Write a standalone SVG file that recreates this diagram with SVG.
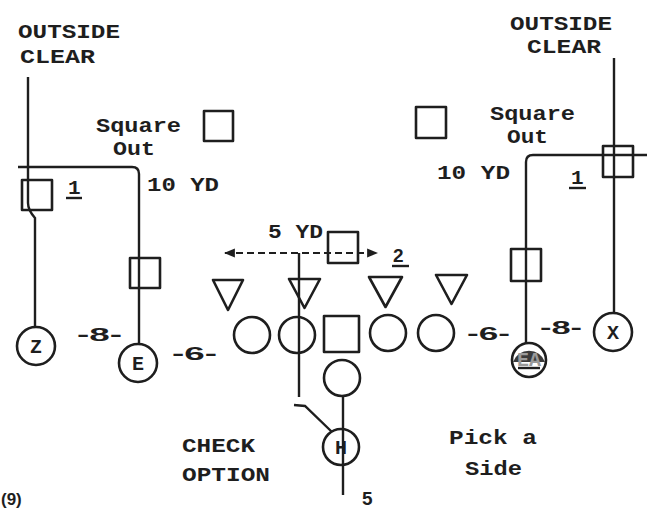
<svg xmlns="http://www.w3.org/2000/svg" width="647" height="508" viewBox="0 0 647 508">
<defs>
<style>
.t{font-family:"Liberation Mono","DejaVu Sans Mono",monospace;font-weight:bold;font-size:21px;fill:#1e1e1e}
.n{font-family:"Liberation Sans","DejaVu Sans",sans-serif;font-weight:bold;font-size:19px;fill:#1e1e1e}
.c{font-family:"Liberation Mono",monospace;font-weight:bold;font-size:20px;fill:#1e1e1e;text-anchor:middle}
.s{fill:none;stroke:#1e1e1e;stroke-width:2.6;stroke-linejoin:round}
.l{fill:none;stroke:#1e1e1e;stroke-width:2.4}
.d{fill:none;stroke:#1e1e1e;stroke-width:2.2;stroke-dasharray:7 4}
</style>
<marker id="ah" viewBox="0 0 10 10" refX="9" refY="5" markerWidth="5" markerHeight="5" orient="auto-start-reverse">
<path d="M0,1 L10,5 L0,9 z" fill="#1e1e1e"/>
</marker>
</defs>
<rect width="647" height="508" fill="#fff"/>

<g id="connectors">
<path class="l" d="M28,77 V203 Q28,210 35,218 V327"/>
<path class="l" d="M18,167 H132 Q139,167 139,174 V344"/>
<path class="l" d="M614,58 V313"/>
<path class="l" d="M647,155 H533 Q526,155 526,162 V343"/>
<path class="d" d="M225,253 H377" marker-start="url(#ah)" marker-end="url(#ah)"/>
<path class="l" d="M299,253 V397"/>
<path class="l" d="M294,405 L305,406 L332,432"/>
<path class="l" d="M343,395 V495"/>
</g>

<g id="labels">
<text class="t" x="18" y="38" textLength="102" lengthAdjust="spacingAndGlyphs">OUTSIDE</text>
<text class="t" x="20" y="63" textLength="75" lengthAdjust="spacingAndGlyphs">CLEAR</text>
<text class="t" x="510" y="30" textLength="102" lengthAdjust="spacingAndGlyphs">OUTSIDE</text>
<text class="t" x="527" y="53" textLength="74" lengthAdjust="spacingAndGlyphs">CLEAR</text>
<text class="t" x="96" y="132" textLength="85" lengthAdjust="spacingAndGlyphs">Square</text>
<text class="t" x="113" y="155" textLength="42" lengthAdjust="spacingAndGlyphs">Out</text>
<text class="t" x="490" y="120" textLength="85" lengthAdjust="spacingAndGlyphs">Square</text>
<text class="t" x="507" y="143" textLength="41" lengthAdjust="spacingAndGlyphs">Out</text>
<text class="t" x="147" y="191" textLength="72" lengthAdjust="spacingAndGlyphs">10 YD</text>
<text class="t" x="437" y="179" textLength="73" lengthAdjust="spacingAndGlyphs">10 YD</text>
<text class="t" x="68" y="194">1</text>
<path class="l" d="M66,198 H82"/>
<text class="t" x="571" y="184">1</text>
<path class="l" d="M569,188 H586"/>
<text class="t" x="268" y="238" textLength="55" lengthAdjust="spacingAndGlyphs">5 YD</text>
<text class="n" x="393" y="262">2</text>
<path class="l" d="M392,266 H409"/>
<text class="n" x="77" y="341" textLength="45" lengthAdjust="spacingAndGlyphs">-8-</text>
<text class="n" x="172" y="360" textLength="45" lengthAdjust="spacingAndGlyphs">-6-</text>
<text class="n" x="467" y="340" textLength="43" lengthAdjust="spacingAndGlyphs">-6-</text>
<text class="n" x="540" y="334" textLength="42" lengthAdjust="spacingAndGlyphs">-8-</text>
<text class="t" x="182" y="452" textLength="73" lengthAdjust="spacingAndGlyphs">CHECK</text>
<text class="t" x="182" y="481" textLength="88" lengthAdjust="spacingAndGlyphs">OPTION</text>
<text class="t" x="449" y="444" textLength="88" lengthAdjust="spacingAndGlyphs">Pick a</text>
<text class="t" x="465" y="475" textLength="57" lengthAdjust="spacingAndGlyphs">Side</text>
<text class="n" x="362" y="505">5</text>
<text class="n" x="1" y="505" style="font-size:17px">(9)</text>
</g>

<g id="defender-sq-left"><rect class="s" x="204" y="111" width="29" height="30"/></g>
<g id="defender-sq-right"><rect class="s" x="416" y="107" width="30" height="31"/></g>
<g id="defender-sq-z"><rect class="s" x="22" y="180" width="30" height="30"/></g>
<g id="defender-sq-e"><rect class="s" x="130" y="258" width="30" height="30"/></g>
<g id="defender-sq-x"><rect class="s" x="603" y="146" width="30" height="31"/></g>
<g id="defender-sq-ea"><rect class="s" x="511" y="249" width="30" height="32"/></g>
<g id="defender-sq-mid"><rect class="s" x="328" y="232" width="30" height="31"/></g>

<g id="tri1"><path class="s" d="M213,280 H243 L228,310 Z"/></g>
<g id="tri2"><path class="s" d="M289,279 H320 L304.5,308 Z"/></g>
<g id="tri3"><path class="s" d="M369,277 H402 L385.5,307 Z"/></g>
<g id="tri4"><path class="s" d="M436,275 H467 L451.5,304 Z"/></g>

<g id="ol1"><circle class="s" cx="252" cy="335" r="18"/></g>
<g id="ol2"><circle class="s" cx="297" cy="335" r="18"/></g>
<g id="center"><rect class="s" x="324" y="316" width="35" height="36"/></g>
<g id="ol3"><circle class="s" cx="388" cy="333" r="18"/></g>
<g id="ol4"><circle class="s" cx="436" cy="333" r="18"/></g>
<g id="qb"><circle class="s" cx="342" cy="378" r="18" fill="#fff"/></g>

<g id="Z"><circle class="s" cx="36" cy="346" r="19" fill="#fff"/><text class="c" x="36" y="353">Z</text></g>
<g id="E"><circle class="s" cx="138" cy="363" r="19" fill="#fff"/><text class="c" x="138" y="370">E</text></g>
<g id="EA"><circle class="s" cx="529" cy="360" r="17" fill="#fff"/><path d="M513,362 A17,17 0 0 1 545,362 Z" fill="#3a3a3a"/><text class="c" x="529" y="366" textLength="24" lengthAdjust="spacingAndGlyphs" style="fill:#9a9a9a">EA</text><path class="l" d="M518,368 H540"/></g>
<g id="X"><circle class="s" cx="613" cy="332" r="19" fill="#fff"/><text class="c" x="613" y="339">X</text></g>
<g id="H"><circle class="s" cx="341" cy="447" r="18" fill="#fff"/><text class="c" x="341" y="454">H</text></g>
</svg>
